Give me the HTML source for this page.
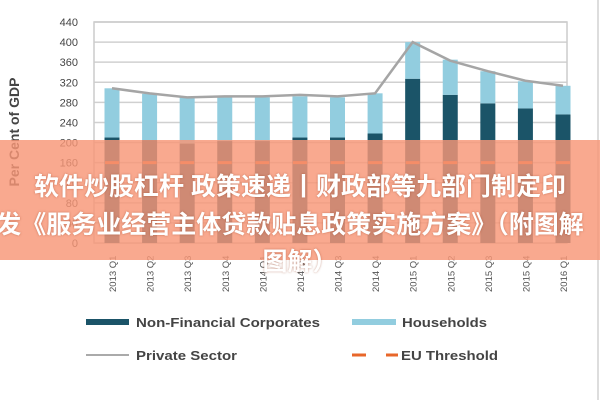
<!DOCTYPE html>
<html><head><meta charset="utf-8">
<style>
body{margin:0;width:600px;height:400px;overflow:hidden;background:#fff;font-family:"Liberation Sans",sans-serif;position:relative}
#banner{position:absolute;left:0;top:140px;width:600px;height:120px;background:rgba(248,150,118,0.82);z-index:2}
.bt{position:absolute;left:0;width:600px;text-align:center;white-space:nowrap;color:#fff;font-weight:bold;font-size:25px;font-family:"Liberation Sans","Noto Sans CJK SC",sans-serif;z-index:3;text-shadow:0 0 2px rgba(150,60,30,.5)}
</style></head><body>
<svg id="chart" width="600" height="400" style="position:absolute;left:0;top:0">
<line x1="598" y1="0" x2="598" y2="400" stroke="#bbb"/>
<g id="grid"></g><g id="bars"></g><g id="lines"></g><g id="labels"></g>
<text transform="translate(19,132) rotate(-90)" text-anchor="middle" font-size="14" font-weight="bold" fill="#444">Per Cent of GDP</text>
<g font-size="12.5" font-weight="bold" fill="#444">
<rect x="86" y="319" width="43" height="6" fill="#1b5468"/>
<text x="136" y="327" textLength="184" lengthAdjust="spacingAndGlyphs">Non-Financial Corporates</text>
<rect x="352" y="319" width="44" height="6" fill="#92cddf"/>
<text x="402" y="327" textLength="85" lengthAdjust="spacingAndGlyphs">Households</text>
<line x1="86" y1="355" x2="129" y2="355" stroke="#aaa" stroke-width="2"/>
<text x="136" y="360" textLength="101" lengthAdjust="spacingAndGlyphs">Private Sector</text>
<line x1="352" y1="355" x2="398" y2="355" stroke="#e8672a" stroke-width="3" stroke-dasharray="14,20"/>
<text x="401" y="360" textLength="97" lengthAdjust="spacingAndGlyphs">EU Threshold</text>
</g>
</svg>
<div id="banner"></div>
<div class="bt" style="top:167px">软件炒股杠杆 政策速递丨财政部等九部门制定印</div>
<div class="bt" style="top:205px;left:-40px;width:660px">发《服务业经营主体贷款贴息政策实施方案》（附图解</div>
<div class="bt" style="top:242px">图解）</div>
<script>
const categories=["2013 Q1","2013 Q2","2013 Q3","2013 Q4","2014 Q1","2014 Q2","2014 Q3","2014 Q4","2015 Q1","2015 Q2","2015 Q3","2015 Q4","2016 Q1"];
const nfc=[210,205,198,203,203,210,210,218,327,295,278,268,256];
const households=[98,92,92,87,87,82,80,80,73,70,64,54,57];
const privateSector=[308,298,290,292,292,295,292,298,400,363,342,323,313];
const euThreshold=[160,160,160,160,160,160,160,160,160,160,160,160,160];
const yTicks=[0,40,80,120,160,200,240,280,320,360,400,440];
const NS="http://www.w3.org/2000/svg";
const L=94,R=567,T=22,B=243,ymax=440;
const y=v=>B-(v/ymax)*(B-T);
const step=(R-L-22)/(categories.length-1);
const x=i=>112+i*step;
function mk(t,a,p){const e=document.createElementNS(NS,t);for(const k in a)e.setAttribute(k,a[k]);p.appendChild(e);return e;}
const g=document.getElementById('grid'),gb=document.getElementById('bars'),gl=document.getElementById('lines'),lab=document.getElementById('labels');
yTicks.forEach(v=>{
 const ln=mk('line',{x1:L,x2:R,y1:y(v),y2:y(v),stroke:'#d0d0d0','stroke-width':1.5},g);
 
 
 const t=mk('text',{x:L-16,y:y(v)+4,'text-anchor':'end','font-size':11,fill:'#444'},lab);
 t.textContent=v;
 
 
});
const fr=mk('rect',{x:L,y:T,width:R-L,height:B-T,fill:'none',stroke:'#ccc','stroke-width':1.5},g);


categories.forEach((c,i)=>{
 const w=15,cx=x(i);
 const b1=mk('rect',{x:cx-w/2,y:y(nfc[i]),width:w,height:B-y(nfc[i]),fill:'#1b5468'},gb);
 
 
 const tot=nfc[i]+households[i];
 const b2=mk('rect',{x:cx-w/2,y:y(tot),width:w,height:y(nfc[i])-y(tot),fill:'#92cddf'},gb);
 
 
 const d=mk('line',{x1:cx-7,x2:cx+7,y1:y(euThreshold[i]),y2:y(euThreshold[i]),stroke:'#e8672a','stroke-width':3},gl);
 
 
 const t=mk('text',{transform:`translate(${cx+4},${292}) rotate(-90)`,'font-size':9.5,fill:'#555'},lab);
 t.textContent=c;
 
 
});
const pl=mk('polyline',{points:privateSector.map((v,i)=>x(i)+','+y(v)).join(' '),fill:'none',stroke:'#a5a5a5','stroke-width':2.5},gl);


</script>
</body></html>
